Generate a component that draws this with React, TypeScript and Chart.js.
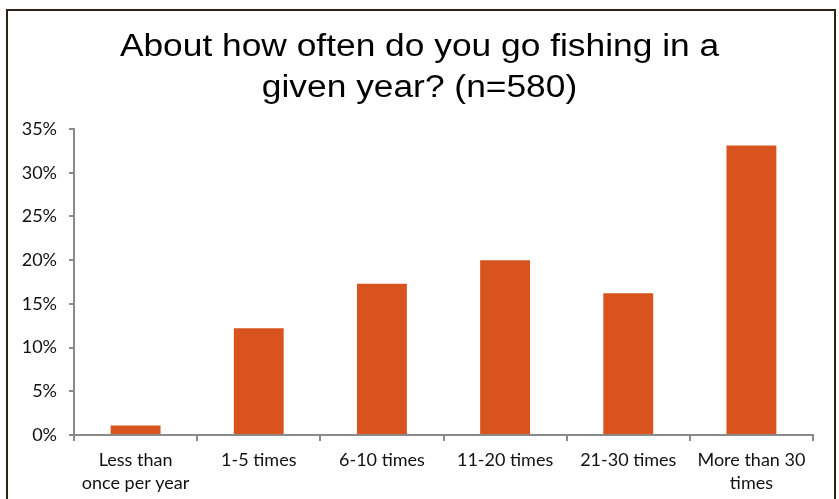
import React, { useEffect, useRef } from "react";
import { Chart, registerables } from "chart.js";

Chart.register(...registerables);

const TITLE_LINES = ["About how often do you go fishing in a", "given year? (n=580)"];
const CATEGORIES: (string | string[])[] = [
  ["Less than", "once per year"],
  "1-5 times",
  "6-10 times",
  "11-20 times",
  "21-30 times",
  ["More than 30", "times"],
];
const VALUES = [1.1, 12.2, 17.3, 20.0, 16.2, 33.1];
const Y_MIN = 0;
const Y_MAX = 35;
const Y_STEP = 5;

const BAR_COLOR = "#D9531E";
const AXIS_COLOR = "#8a8a8a";
const TEXT_COLOR = "#111111";
const TICK_FONT = "Lato";

const titlePlugin = {
  id: "stretchedTitle",
  afterDraw(chart: any) {
    const ctx = chart.ctx;
    ctx.save();
    ctx.fillStyle = "#000";
    ctx.font = '31px "Liberation Sans"';
    ctx.textAlign = "center";
    ctx.textBaseline = "middle";
    const cx = chart.width / 2;
    TITLE_LINES.forEach((line, i) => {
      ctx.save();
      ctx.translate(cx, 47 + i * 41);
      ctx.scale(1.14, 1);
      ctx.fillText(line, 0, 0);
      ctx.restore();
    });
    ctx.restore();
  },
};

export default function App() {
  const ref = useRef<HTMLCanvasElement | null>(null);

  useEffect(() => {
    if (!ref.current) return;
    const chart = new Chart(ref.current, {
      type: "bar",
      data: {
        labels: CATEGORIES,
        datasets: [
          {
            data: VALUES,
            backgroundColor: BAR_COLOR,
            borderWidth: 0,
            barPercentage: 0.405,
            categoryPercentage: 1,
          },
        ],
      },
      plugins: [titlePlugin],
      options: {
        responsive: false,
        animation: false,
        events: [],
        layout: { padding: { top: 129, left: 0, right: 26, bottom: 0 } },
        plugins: {
          legend: { display: false },
          tooltip: { enabled: false },
          title: { display: false },
        },
        scales: {
          x: {
            offset: true,
            grid: {
              offset: true,
              drawOnChartArea: false,
              drawTicks: true,
              tickLength: 6,
              color: AXIS_COLOR,
              lineWidth: 2,
            },
            border: { display: true, color: AXIS_COLOR, width: 2 },
            ticks: {
              color: TEXT_COLOR,
              font: { family: TICK_FONT, size: 18, lineHeight: 1.28 },
              padding: 8,
              maxRotation: 0,
              autoSkip: false,
            },
            afterFit: (s: any) => {
              s.height = 64;
            },
          },
          y: {
            min: Y_MIN,
            max: Y_MAX,
            grid: {
              drawOnChartArea: false,
              drawTicks: true,
              tickLength: 5,
              color: AXIS_COLOR,
              lineWidth: 2,
            },
            border: { display: true, color: AXIS_COLOR, width: 2 },
            ticks: {
              stepSize: Y_STEP,
              color: TEXT_COLOR,
              font: { family: TICK_FONT, size: 18 },
              padding: 12,
              callback: (v: any) => v + "%",
            },
            afterFit: (s: any) => {
              s.width = 74;
            },
          },
        },
      },
    });
    return () => chart.destroy();
  }, []);

  return (
    <div style={{ position: "fixed", left: 0, top: 0, width: 839, height: 499, background: "#fff" }}>
      <canvas ref={ref} width={839} height={499} style={{ display: "block" }} />
      <div
        style={{
          position: "absolute",
          left: 6,
          top: 9,
          width: 826,
          height: 520,
          border: "2px solid #2b2519",
          pointerEvents: "none",
        }}
      />
    </div>
  );
}
